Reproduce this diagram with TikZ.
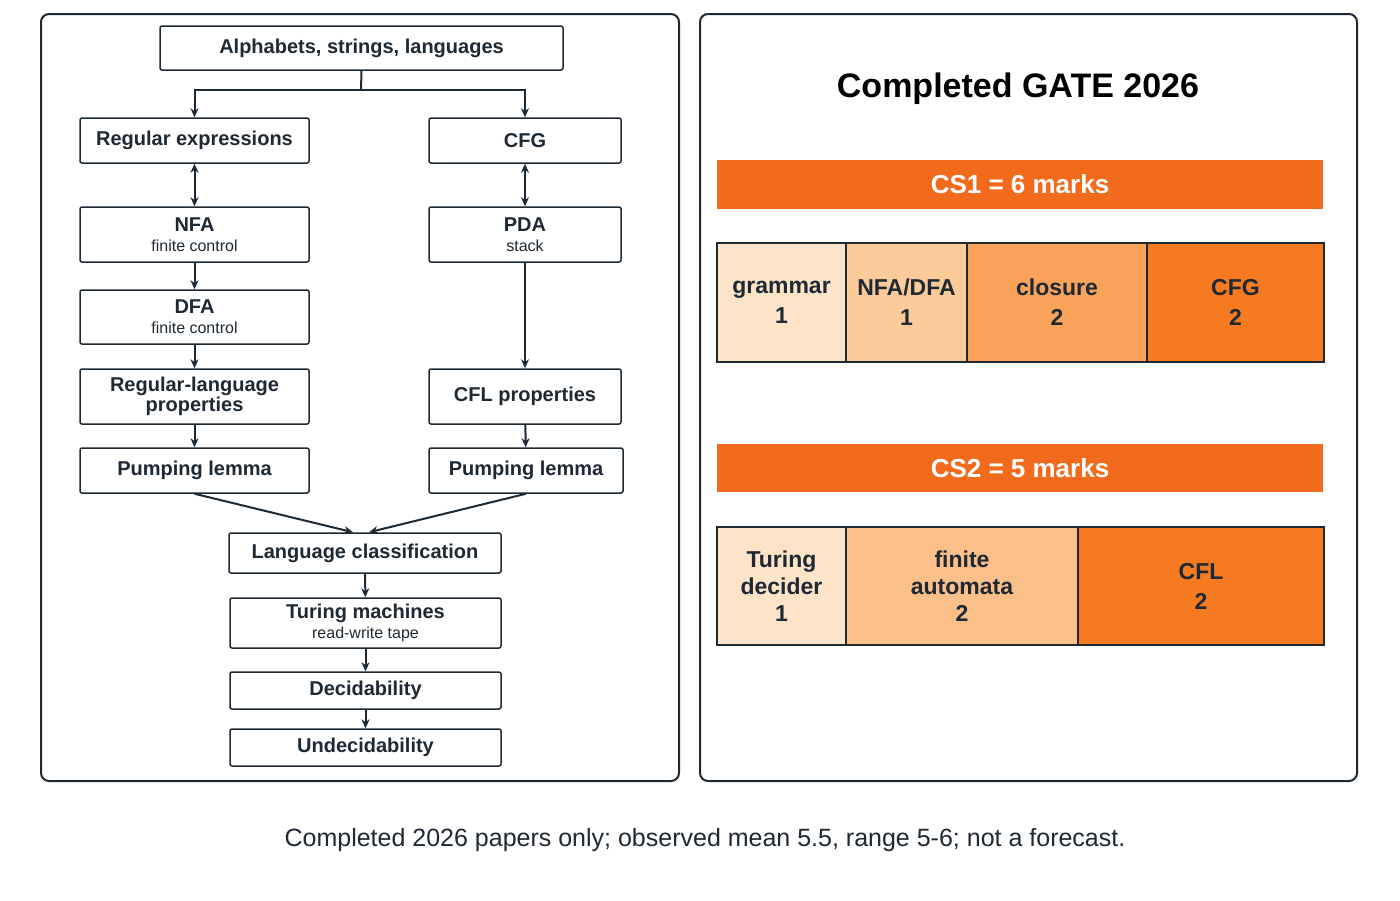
\documentclass[tikz,border=0pt]{standalone}
\usepackage{fontspec}
\setmainfont{Liberation Sans}
\usetikzlibrary{arrows.meta,positioning}
\definecolor{ink}{HTML}{1E2933}
\definecolor{barc}{HTML}{F26A1B}
\definecolor{c1}{HTML}{FDE3C8}
\definecolor{c2}{HTML}{FCCB9A}
\definecolor{c3}{HTML}{F9A25A}
\definecolor{c4}{HTML}{F57A21}
\definecolor{c5}{HTML}{FBC08A}
\begin{document}
\begin{tikzpicture}[x=1pt,y=-1pt,
  box/.style={draw=ink,line width=1.5pt,rounded corners=2pt,align=center,text=ink,font=\fontsize{20}{22}\selectfont\bfseries,inner sep=0pt},
  arr/.style={draw=ink,line width=2pt,-{Stealth[length=9pt,width=8pt]}},
  darr/.style={draw=ink,line width=2pt,{Stealth[length=9pt,width=8pt]}-{Stealth[length=9pt,width=8pt]}},
  cell/.style={draw=ink,line width=1.5pt,align=center,text=ink,font=\fontsize{23}{30}\selectfont\bfseries},
  bar/.style={fill=barc,text=white,font=\fontsize{26}{30}\selectfont\bfseries}]
\useasboundingbox (0,0) rectangle (1400,900);
\fill[white] (0,0) rectangle (1400,900);
\draw[ink,line width=2pt,rounded corners=8pt] (41,14) rectangle (679,781);
\draw[ink,line width=2pt,rounded corners=8pt] (700,14) rectangle (1357,781);
\newcommand{\bx}[6]{\node[box,minimum width=#4-#2,minimum height=#5-#3] (#1) at ({(#2+#4)/2},{(#3+#5)/2}) {#6};}
\newcommand{\sub}[1]{\\[-2pt]{\fontsize{16}{18}\selectfont\mdseries #1}}
\bx{alpha}{160}{26}{563}{70}{Alphabets, strings, languages}
\bx{re}{80}{118}{309}{163}{Regular expressions}
\bx{cfg}{429}{118}{621}{163}{CFG}
\bx{nfa}{80}{207}{309}{262}{NFA\sub{finite control}}
\bx{pda}{429}{207}{621}{262}{PDA\sub{stack}}
\bx{dfa}{80}{290}{309}{344}{DFA\sub{finite control}}
\bx{rlp}{80}{369}{309}{424}{Regular-language\\[-2pt]properties}
\bx{cflp}{429}{369}{621}{424}{CFL properties}
\bx{pl}{80}{448}{309}{493}{Pumping lemma}
\bx{pr}{429}{448}{623}{493}{Pumping lemma}
\bx{lc}{229}{533}{501}{573}{Language classification}
\bx{tm}{230}{598}{501}{648}{Turing machines\sub{read-write tape}}
\bx{dec}{230}{672}{501}{709}{Decidability}
\bx{und}{230}{729}{501}{766}{Undecidability}
\coordinate (j) at (361,90);
\draw[ink,line width=2pt] (alpha.south) -- (j);
\draw[arr] (j) -| (re.north);
\draw[arr] (j) -| (cfg.north);
\draw[darr] (re.south) -- (nfa.north);
\draw[darr] (cfg.south) -- (pda.north);
\draw[arr] (nfa) -- (dfa);
\draw[arr] (dfa) -- (rlp);
\draw[arr] (rlp) -- (pl);
\draw[arr] (pda) -- (cflp);
\draw[arr] (cflp) -- (pr);
\draw[arr] (pl.south) -- ([xshift=-12pt]lc.north);
\draw[arr] (pr.south) -- ([xshift=4pt]lc.north);
\draw[arr] (lc) -- (tm);
\draw[arr] (tm) -- (dec);
\draw[arr] (dec) -- (und);
\node[text=black,font=\fontsize{34}{36}\selectfont\bfseries] (title) at (1018,89) {Completed GATE 2026};
\node[bar,minimum width=606,minimum height=49] (cs1) at (1020,184) {CS1 = 6 marks};
\node[bar,minimum width=606,minimum height=48] (cs2) at (1020,468) {CS2 = 5 marks};
\newcommand{\cl}[7]{\node[cell,fill=#6,minimum width=#4-#2,minimum height=#5-#3] (#1) at ({(#2+#4)/2},{(#3+#5)/2}) {#7};}
\cl{g}{717}{243}{846}{362}{c1}{grammar\\1}
\cl{n}{846}{243}{967}{362}{c2}{NFA/DFA\\1}
\cl{c}{967}{243}{1147}{362}{c3}{closure\\2}
\cl{f}{1147}{243}{1324}{362}{c4}{CFG\\2}
\cl{t}{717}{527}{846}{645}{c1}{Turing\\[-3pt]decider\\[-3pt]1}
\cl{a}{846}{527}{1078}{645}{c5}{finite\\[-3pt]automata\\[-3pt]2}
\cl{l}{1078}{527}{1324}{645}{c4}{CFL\\2}
\node[text=ink,font=\fontsize{25}{28}\selectfont] (cap) at (705,840) {Completed 2026 papers only; observed mean 5.5, range 5-6; not a forecast.};
\end{tikzpicture}
\end{document}
